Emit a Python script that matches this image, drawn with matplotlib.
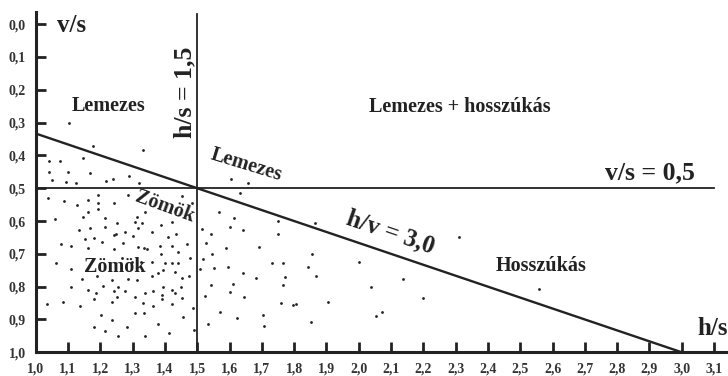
import matplotlib
matplotlib.use("Agg")
import matplotlib.pyplot as plt

plt.rcParams['font.family'] = ['Liberation Serif', 'DejaVu Serif']
plt.rcParams['font.weight'] = 'bold'

# ---- data ----
x_ticks = [1.0, 1.1, 1.2, 1.3, 1.4, 1.5, 1.6, 1.7, 1.8, 1.9, 2.0, 2.1, 2.2,
           2.3, 2.4, 2.5, 2.6, 2.7, 2.8, 2.9, 3.0, 3.1]
y_ticks = [0.0, 0.1, 0.2, 0.3, 0.4, 0.5, 0.6, 0.7, 0.8, 0.9, 1.0]

hs_limit = 1.5      # h/s = 1,5
vs_limit = 0.5      # v/s = 0,5
hv_ratio = 3.0      # h/v = 3,0

# measured points, h/s < 1.5
left_x = [1.041, 1.075, 1.145, 1.103, 1.176, 1.331, 1.041, 1.099, 1.168, 1.049,
          1.094, 1.124, 1.218, 1.240, 1.290, 1.321,
          1.039, 1.089, 1.129, 1.163, 1.194, 1.192, 1.243, 1.285, 1.452, 1.485,
          1.161, 1.192, 1.146, 1.215, 1.060, 1.338, 1.313, 1.306, 1.328, 1.253,
          1.213, 1.135, 1.168, 1.388, 1.423, 1.277, 1.249, 1.241, 1.318, 1.302,
          1.361, 1.434, 1.153, 1.179, 1.079, 1.108, 1.206, 1.269, 1.163, 1.243,
          1.316, 1.336, 1.346, 1.385, 1.411, 1.421, 1.468, 1.442, 1.388, 1.478,
          1.063, 1.108, 1.266, 1.297, 1.326, 1.361, 1.400, 1.423, 1.439, 1.395,
          1.380, 1.359, 1.473, 1.452, 1.189, 1.142, 1.237, 1.287, 1.313, 1.431,
          1.108, 1.163, 1.187, 1.207, 1.241, 1.254, 1.277, 1.308, 1.338, 1.364,
          1.393, 1.392, 1.421, 1.449, 1.431, 1.452, 1.182, 1.251, 1.235, 1.390,
          1.036, 1.083, 1.137, 1.333, 1.364, 1.421, 1.488, 1.201, 1.235, 1.308,
          1.336, 1.455, 1.179, 1.213, 1.282, 1.378, 1.256, 1.338, 1.413, 1.489]
left_y = [0.416, 0.417, 0.409, 0.300, 0.371, 0.384, 0.450, 0.452, 0.453, 0.475,
          0.480, 0.485, 0.477, 0.472, 0.462, 0.483,
          0.531, 0.539, 0.551, 0.536, 0.520, 0.544, 0.544, 0.522, 0.524, 0.544,
          0.571, 0.564, 0.589, 0.590, 0.595, 0.571, 0.587, 0.604, 0.605, 0.607,
          0.617, 0.627, 0.620, 0.612, 0.602, 0.632, 0.639, 0.643, 0.622, 0.646,
          0.634, 0.639, 0.656, 0.651, 0.670, 0.676, 0.663, 0.668, 0.681, 0.686,
          0.678, 0.681, 0.686, 0.675, 0.650, 0.677, 0.671, 0.693, 0.700, 0.712,
          0.727, 0.747, 0.714, 0.724, 0.724, 0.724, 0.727, 0.729, 0.729, 0.749,
          0.757, 0.769, 0.769, 0.775, 0.769, 0.778, 0.780, 0.776, 0.780, 0.754,
          0.802, 0.810, 0.818, 0.798, 0.812, 0.802, 0.812, 0.830, 0.820, 0.813,
          0.800, 0.825, 0.810, 0.800, 0.820, 0.835, 0.838, 0.830, 0.846, 0.837,
          0.853, 0.848, 0.859, 0.851, 0.859, 0.853, 0.866, 0.886, 0.901, 0.881,
          0.881, 0.893, 0.922, 0.934, 0.924, 0.914, 0.950, 0.950, 0.942, 0.932]

# measured points, h/s > 1.5
right_x = [1.605, 1.658, 1.567, 1.615, 1.602, 1.643, 1.516, 1.543, 1.527, 1.749,
           1.751, 1.865, 1.633, 1.589, 1.691, 1.547, 1.519, 1.854, 1.509, 1.551,
           1.594, 1.641, 1.731, 1.764, 1.844, 1.867, 1.772, 1.682, 2.001, 1.543,
           1.610, 1.767, 2.038, 2.138, 1.600, 1.524, 1.646, 2.200, 1.758, 1.798,
           1.805, 1.906, 1.569, 1.704, 1.624, 1.852, 1.532, 1.707, 2.052, 2.073,
           2.311, 2.559]
right_y = [0.472, 0.483, 0.572, 0.592, 0.619, 0.628, 0.625, 0.641, 0.666, 0.599,
           0.640, 0.607, 0.514, 0.681, 0.680, 0.701, 0.715, 0.699, 0.747, 0.742,
           0.739, 0.757, 0.728, 0.728, 0.741, 0.766, 0.770, 0.773, 0.724, 0.795,
           0.792, 0.796, 0.800, 0.778, 0.815, 0.829, 0.831, 0.835, 0.851, 0.856,
           0.854, 0.847, 0.876, 0.885, 0.897, 0.907, 0.914, 0.920, 0.889, 0.878,
           0.650, 0.807]

# ---- figure ----
fig = plt.figure(figsize=(7.28, 3.76), dpi=100)
ax = fig.add_axes([35.7 / 728, 23.7 / 376, (728 - 35.7) / 728, (352.3 - 12) / 376])
ax.set_xlim(1.0, 3.143)
ax.set_ylim(1.0, -0.037)

for s in ['top', 'right']:
    ax.spines[s].set_visible(False)
for s in ['left', 'bottom']:
    ax.spines[s].set_linewidth(2.2)
    ax.spines[s].set_color('#222222')

ax.set_xticks(x_ticks)
ax.set_xticklabels([f"{v:.1f}".replace('.', ',') for v in x_ticks])
ax.set_yticks(y_ticks)
ax.set_yticklabels([f"{v:.1f}".replace('.', ',') for v in y_ticks])
ax.tick_params(direction='in', length=7, width=2.0, labelsize=10, pad=7,
               color='#222222', labelcolor='#333333')
for lab in ax.get_xticklabels() + ax.get_yticklabels():
    lab.set_fontweight('bold')

# boundary lines
ax.plot([hs_limit, hs_limit], [-0.03, 1.0], color='#222222', lw=1.3)
ax.plot([1.0, 3.1], [vs_limit, vs_limit], color='#222222', lw=1.3)
ax.plot([1.0, hv_ratio * 1.0], [1.0 / hv_ratio, 1.0], color='#222222', lw=1.7)

# points
ax.scatter(left_x, left_y, s=4, color='#222222', lw=0)
ax.scatter(right_x, right_y, s=4, color='#222222', lw=0)

# labels
tc = '#222222'
ax.text(1.112, 0.003, "v/s", fontsize=18, fontweight='bold', ha='center', va='center', color=tc)
ax.text(3.097, 0.926, "h/s", fontsize=18, fontweight='bold', ha='center', va='center', color=tc)
ax.text(1.227, 0.250, "Lemezes", fontsize=14.5, fontweight='bold', ha='center', va='center', color=tc)
ax.text(2.314, 0.252, "Lemezes + hosszúkás", fontsize=14.5, fontweight='bold', ha='center', va='center', color=tc)
ax.text(1.651, 0.430, "Lemezes", fontsize=14.5, fontweight='bold', ha='center', va='center', rotation=-17, color=tc)
ax.text(2.902, 0.452, "v/s = 0,5", fontsize=18.5, fontweight='bold', ha='center', va='center', color=tc)
ax.text(1.462, 0.207, "h/s = 1,5", fontsize=18.5, fontweight='bold', ha='center', va='center', rotation=90, color=tc)
ax.text(1.400, 0.558, "Zömök", fontsize=14.5, fontweight='bold', ha='center', va='center', rotation=-20, color=tc)
ax.text(1.244, 0.739, "Zömök", fontsize=14.5, fontweight='bold', ha='center', va='center', color=tc)
ax.text(2.097, 0.634, "h/v = 3,0", fontsize=18, fontweight='bold', ha='center', va='center', rotation=-19, color=tc)
ax.text(2.564, 0.736, "Hosszúkás", fontsize=14.5, fontweight='bold', ha='center', va='center', color=tc)

fig.savefig("out.png", dpi=100)
